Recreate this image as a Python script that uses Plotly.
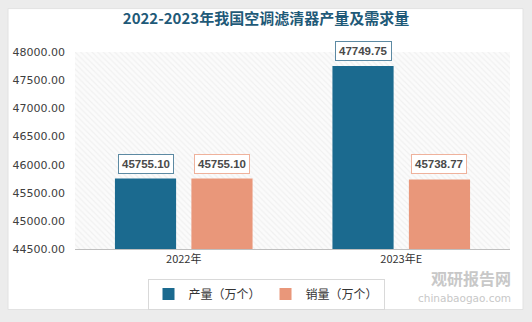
import plotly.graph_objects as go

categories = ["2022年", "2023年E"]
production = [45755.10, 47749.75]
sales = [45755.10, 45738.77]
series_names = ["产量（万个）", "销量（万个）"]
y_ticks = [44500, 45000, 45500, 46000, 46500, 47000, 47500, 48000]

W, H = 532, 322
L, R, T, B = 75, 22, 52, 70
plot_w = W - L - R
BLUE = "#1b6a8f"
SALMON = "#e9977a"
bargap = 0.297
bargroupgap = 0.2

fig = go.Figure()

# hatched background of the plot area
fig.add_trace(go.Bar(
    x=[0.5], y=[y_ticks[-1] - y_ticks[0]], base=[y_ticks[0]], width=[1.0],
    xaxis="x", yaxis="y", showlegend=False, hoverinfo="skip",
    marker=dict(color="#ffffff", line=dict(width=0),
                pattern=dict(shape="\\", fgcolor="#e6e6e6", bgcolor="#fbfbfb",
                             size=4, solidity=0.3)),
))

fig.add_trace(go.Bar(x=categories, y=production, name=series_names[0],
                     marker=dict(color=BLUE, line=dict(width=0)),
                     xaxis="x2", yaxis="y"))
fig.add_trace(go.Bar(x=categories, y=sales, name=series_names[1],
                     marker=dict(color=SALMON, line=dict(width=0)),
                     xaxis="x2", yaxis="y"))

# boxed value labels
cat_px = plot_w / len(categories)
half_slot = cat_px * (1 - bargap) / 4
for vals, col, sgn in [(production, "#5d8aa3", -1), (sales, "#efb29c", 1)]:
    for c, v in zip(categories, vals):
        fig.add_annotation(x=c, y=v, xref="x2", yref="y", text=f"<b>{v:.2f}</b>",
                           showarrow=False, xshift=sgn * half_slot, yanchor="bottom", yshift=5,
                           font=dict(size=11.5, color="#4a4a4a", family="Liberation Sans"),
                           bgcolor="#ffffff", bordercolor=col, borderwidth=1, borderpad=3)

# outer card
def px2paper_x(px):
    return (px - L) / plot_w
def px2paper_y(py):
    return 1 - (py - T) / (H - T - B)

fig.add_shape(type="rect", xref="paper", yref="paper", layer="below",
              x0=px2paper_x(8), x1=px2paper_x(523), y0=px2paper_y(313), y1=px2paper_y(8),
              fillcolor="#ffffff", line=dict(color="#e2e2e2", width=1))

# watermark
fig.add_annotation(xref="paper", yref="paper", x=px2paper_x(513), y=px2paper_y(281),
                   xanchor="right", yanchor="middle", showarrow=False,
                   text="<b>观研报告网</b>", font=dict(size=16, color="#c8c8c8", family="Noto Sans CJK SC"))
fig.add_annotation(xref="paper", yref="paper", x=px2paper_x(513), y=px2paper_y(301),
                   xanchor="right", yanchor="middle", showarrow=False,
                   text="chinabaogao.com", font=dict(size=10.5, color="#c8c8c8", family="DejaVu Sans"))

fig.update_layout(
    width=W, height=H,
    margin=dict(l=L, r=R, t=T, b=B),
    paper_bgcolor="#ececec",
    plot_bgcolor="rgba(0,0,0,0)",
    barmode="group", bargap=bargap, bargroupgap=bargroupgap,
    title=dict(text="<b>2022-2023年我国空调滤清器产量及需求量</b>", x=0.5, xref="container",
               xanchor="center", y=1 - 19 / H, yanchor="middle", yref="container",
               font=dict(size=15, color="#1f5a78", family="Noto Sans CJK SC")),
    xaxis=dict(range=[0, 1], visible=False, fixedrange=True),
    xaxis2=dict(overlaying="x", type="category", showline=True, linecolor="#bfbfbf",
                linewidth=1, ticks="", showgrid=False, side="bottom",
                tickfont=dict(size=11, color="#333333", family="Noto Sans CJK SC")),
    yaxis=dict(range=[y_ticks[0], y_ticks[-1]], tickvals=y_ticks, tickformat=".2f",
               showgrid=False, showline=False, zeroline=False, ticks="", ticklabelstandoff=9,
               tickfont=dict(size=11, color="#404040", family="DejaVu Sans")),
    legend=dict(orientation="h", xref="container", yref="container", x=0.5, y=1 - 294 / H,
                xanchor="center", yanchor="middle", bgcolor="#ffffff",
                bordercolor="#d9d9d9", borderwidth=1,
                font=dict(size=12, color="#333333", family="Noto Sans CJK SC"),
                itemwidth=30, traceorder="normal"),
    showlegend=True,
)

fig.write_html("out.html")
